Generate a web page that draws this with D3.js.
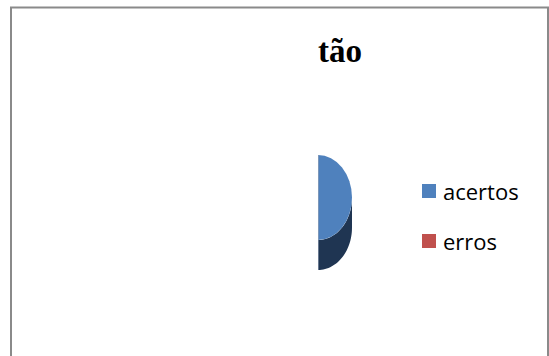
<!DOCTYPE html>
<html>
<head>
<meta charset="utf-8">
<script src="https://cdn.jsdelivr.net/npm/d3@7"></script>
<style>
  html, body { margin: 0; padding: 0; background: #fff; }
  svg { display: block; }
</style>
</head>
<body>
<script>
const title = "tão";
const categories = ["acertos", "erros"];
const values = [1, 0];
const colors = ["#4F81BD", "#C0504D"];
const sideColors = ["#1F3552", "#5A2524"];

const W = 549, H = 356;
const svg = d3.select("body").append("svg").attr("width", W).attr("height", H);

// chart area border
svg.append("rect")
  .attr("x", 11).attr("y", 7.5).attr("width", 537).attr("height", 400)
  .attr("fill", "#fff").attr("stroke", "#8a8a8a").attr("stroke-width", 2);

svg.append("text")
  .attr("x", 340).attr("y", 62)
  .attr("text-anchor", "middle")
  .attr("font-family", "'Liberation Serif', 'Times New Roman', serif")
  .attr("font-weight", "bold")
  .attr("font-size", 33)
  .text(title);

// 3D pie
const cx = 318, cy = 197.5, rx = 34, ry = 42.5, depth = 30;
const defs = svg.append("defs");
defs.append("clipPath").attr("id", "plotClip")
  .append("rect").attr("x", 318).attr("y", 0).attr("width", 300).attr("height", H);

const pie = d3.pie().sort(null).value(d => d)(values);
const g = svg.append("g").attr("clip-path", "url(#plotClip)");

const px = a => cx + rx * Math.sin(a);
const py = (a, dy) => cy - ry * Math.cos(a) + dy;

// sides
pie.forEach((p, i) => {
  const s = Math.max(p.startAngle, Math.PI / 2);
  const e = Math.min(p.endAngle, 3 * Math.PI / 2);
  if (e <= s) return;
  const n = 60;
  const pts = [];
  for (let k = 0; k <= n; k++) { const a = s + (e - s) * k / n; pts.push([px(a), py(a, 0)]); }
  for (let k = n; k >= 0; k--) { const a = s + (e - s) * k / n; pts.push([px(a), py(a, depth)]); }
  g.append("path").attr("d", d3.line()(pts) + "Z").attr("fill", sideColors[i]);
});

// tops
const arc = d3.arc().innerRadius(0).outerRadius(1);
g.selectAll("path.top").data(pie).enter().append("path")
  .attr("class", "top")
  .attr("d", arc)
  .attr("transform", `translate(${cx},${cy}) scale(${rx},${ry})`)
  .attr("fill", (d, i) => colors[i]);

// clip edge line
svg.append("line").attr("x1", 318.5).attr("x2", 318.5).attr("y1", 155).attr("y2", 270)
  .attr("stroke", "#9aa6b8").attr("stroke-width", 1).attr("opacity", 0.6);

// legend
const y = d3.scalePoint().domain(categories).range([191, 241]);
const lg = svg.append("g");
categories.forEach((c, i) => {
  lg.append("rect").attr("x", 422).attr("y", y(c) - 7).attr("width", 14).attr("height", 14)
    .attr("fill", colors[i]);
  lg.append("text").attr("x", 443).attr("y", y(c) + 9)
    .attr("font-family", "'Open Sans', sans-serif").attr("font-size", 22)
    .attr("fill", "#000").text(c);
});
</script>
</body>
</html>
